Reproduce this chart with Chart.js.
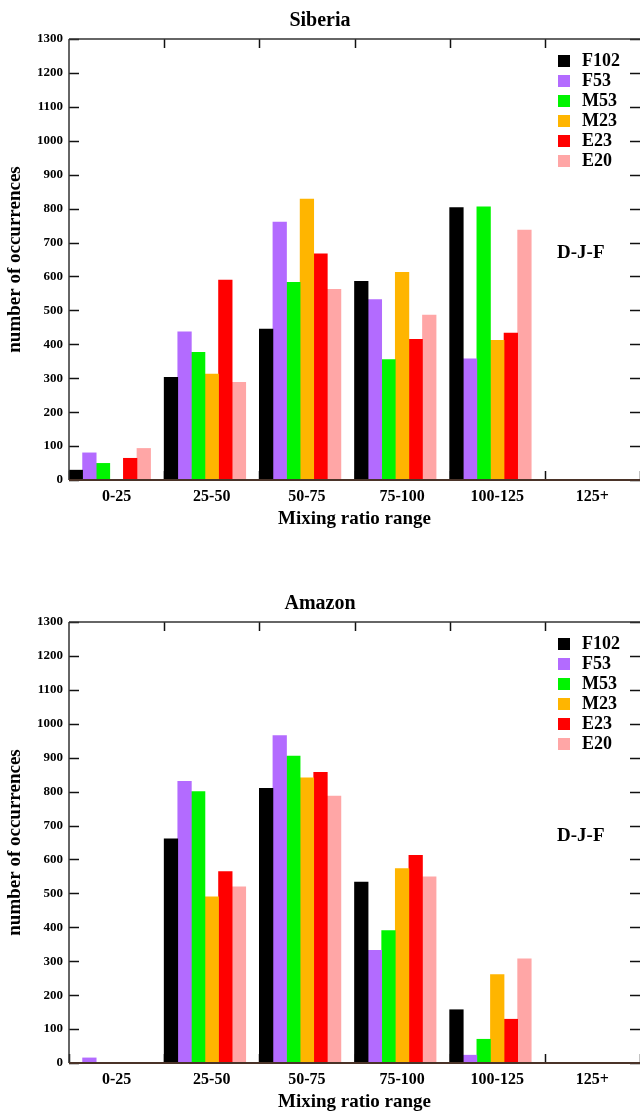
<!DOCTYPE html>
<html>
<head>
<meta charset="utf-8">
<script src="https://cdn.jsdelivr.net/npm/chart.js@4/dist/chart.umd.min.js"></script>
<style>
  body { margin: 0; background: #fff; width: 640px; height: 1111px; overflow: hidden; position: relative; }
  .box { position: absolute; left: 0; width: 640px; height: 530px; }
</style>
</head>
<body>
<div class="box" style="top:0"><canvas id="siberia"></canvas></div>
<div class="box" style="top:583px"><canvas id="amazon"></canvas></div>
<script>
const ranges = ['0-25', '25-50', '50-75', '75-100', '100-125', '125+'];
const seriesNames = ['F102', 'F53', 'M53', 'M23', 'E23', 'E20'];
const seriesColors = ['#000000', '#b36bff', '#00f400', '#ffb500', '#ff0000', '#ffa6a6'];
const yTicks = [0, 100, 200, 300, 400, 500, 600, 700, 800, 900, 1000, 1100, 1200, 1300];

// Siberia, D-J-F
const sibF102 = [29, 303, 445, 586, 803, 0];
const sibF53  = [80, 437, 760, 532, 357, 0];
const sibM53  = [49, 376, 583, 355, 805, 0];
const sibM23  = [2, 312, 828, 612, 412, 0];
const sibE23  = [64, 589, 667, 415, 433, 0];
const sibE20  = [93, 288, 562, 486, 737, 0];

// Amazon, D-J-F
const amzF102 = [2, 661, 810, 533, 157, 0];
const amzF53  = [15, 830, 965, 332, 23, 0];
const amzM53  = [2, 800, 905, 390, 70, 0];
const amzM23  = [2, 490, 841, 573, 261, 0];
const amzE23  = [2, 564, 857, 612, 129, 0];
const amzE20  = [2, 519, 787, 549, 307, 0];

const serif = '"Liberation Serif", "DejaVu Serif", serif';

function line(ctx, x1, y1, x2, y2) {
    ctx.beginPath();
    ctx.moveTo(x1, y1);
    ctx.lineTo(x2, y2);
    ctx.stroke();
}

// tick marks pointing into the plot, like the original gnuplot-style frame
const frame = {
    id: 'frame',
    beforeDatasetsDraw(chart) {
        const { ctx, chartArea: a, scales: { x, y } } = chart;
        ctx.save();
        ctx.strokeStyle = '#111';
        ctx.lineWidth = 1.5;
        yTicks.forEach(v => {
            const py = Math.round(y.getPixelForValue(v)) + 0.5;
            line(ctx, a.left, py, a.left + 10, py);
            line(ctx, a.right - 10, py, a.right, py);
        });
        for (let i = 0; i <= ranges.length; i++) {
            const px = Math.round(x.getPixelForValue(i - 0.5)) + 0.5;
            line(ctx, px, a.bottom, px, a.bottom - 9);
            if (i > 0 && i < ranges.length) line(ctx, px, a.top, px, a.top + 9);
        }
        ctx.restore();
    },
    afterDatasetsDraw(chart) {
        const { ctx, chartArea: a } = chart;
        ctx.save();
        ctx.strokeStyle = '#333';
        ctx.lineWidth = 1.5;
        line(ctx, a.left, a.top, a.right, a.top);
        line(ctx, a.left, a.top, a.left, a.bottom);
        ctx.strokeStyle = '#4a3328';
        ctx.lineWidth = 2;
        line(ctx, a.left, a.bottom, a.right, a.bottom);

        // legend inside the plot, top right
        ctx.font = 'bold 18px ' + serif;
        ctx.textBaseline = 'middle';
        ctx.fillStyle = '#000';
        chart.data.datasets.filter(d => d.label).forEach((d, i) => {
            const cy = a.top + 22 + i * 20;
            ctx.fillStyle = d.backgroundColor;
            ctx.fillRect(a.right - 82, cy - 6, 12, 12);
            ctx.fillStyle = '#000';
            ctx.fillText(d.label, a.right - 58, cy);
        });
        ctx.font = 'bold 19px ' + serif;
        ctx.fillText('D-J-F', a.right - 83, a.top + 214);
        ctx.restore();
    }
};

function makeChart(id, title, values) {
    const datasets = seriesNames.map((name, i) => ({
        label: name,
        data: values[i],
        backgroundColor: seriesColors[i],
        borderWidth: 0
    }));
    // empty slot so the six bars sit at the left of each range, as in the original
    datasets.push({ label: '', data: ranges.map(() => null), backgroundColor: 'rgba(0,0,0,0)' });

    return new Chart(document.getElementById(id), {
        type: 'bar',
        data: { labels: ranges, datasets: datasets },
        options: {
            responsive: true,
            maintainAspectRatio: false,
            animation: false,
            layout: { padding: 0 },
            datasets: { bar: { categoryPercentage: 1, barPercentage: 1 } },
            plugins: {
                legend: { display: false },
                tooltip: { enabled: false },
                title: {
                    display: true,
                    text: title,
                    color: '#000',
                    font: { family: serif, size: 20, weight: 'bold' },
                    padding: { top: 9, bottom: 6 }
                }
            },
            scales: {
                x: {
                    grid: { display: false, drawTicks: false },
                    border: { display: false },
                    ticks: {
                        color: '#000',
                        font: { family: serif, size: 16, weight: 'bold' },
                        padding: 7,
                        maxRotation: 0,
                        autoSkip: false
                    },
                    title: {
                        display: true,
                        text: 'Mixing ratio range',
                        color: '#000',
                        font: { family: serif, size: 19, weight: 'bold' },
                        padding: { top: 0, bottom: 0 }
                    },
                    afterFit(s) { s.height = 50; }
                },
                y: {
                    min: 0,
                    max: 1300,
                    grid: { display: false, drawTicks: false },
                    border: { display: false },
                    ticks: {
                        stepSize: 100,
                        color: '#000',
                        font: { family: serif, size: 13, weight: 'bold' },
                        padding: 6,
                        callback: v => String(v)
                    },
                    title: {
                        display: true,
                        text: 'number of occurrences',
                        color: '#000',
                        font: { family: serif, size: 19, weight: 'bold' },
                        padding: { top: 4, bottom: 0 }
                    },
                    afterFit(s) { s.width = 69; }
                }
            }
        },
        plugins: [frame]
    });
}

makeChart('siberia', 'Siberia', [sibF102, sibF53, sibM53, sibM23, sibE23, sibE20]);
makeChart('amazon', 'Amazon', [amzF102, amzF53, amzM53, amzM23, amzE23, amzE20]);
</script>
</body>
</html>
